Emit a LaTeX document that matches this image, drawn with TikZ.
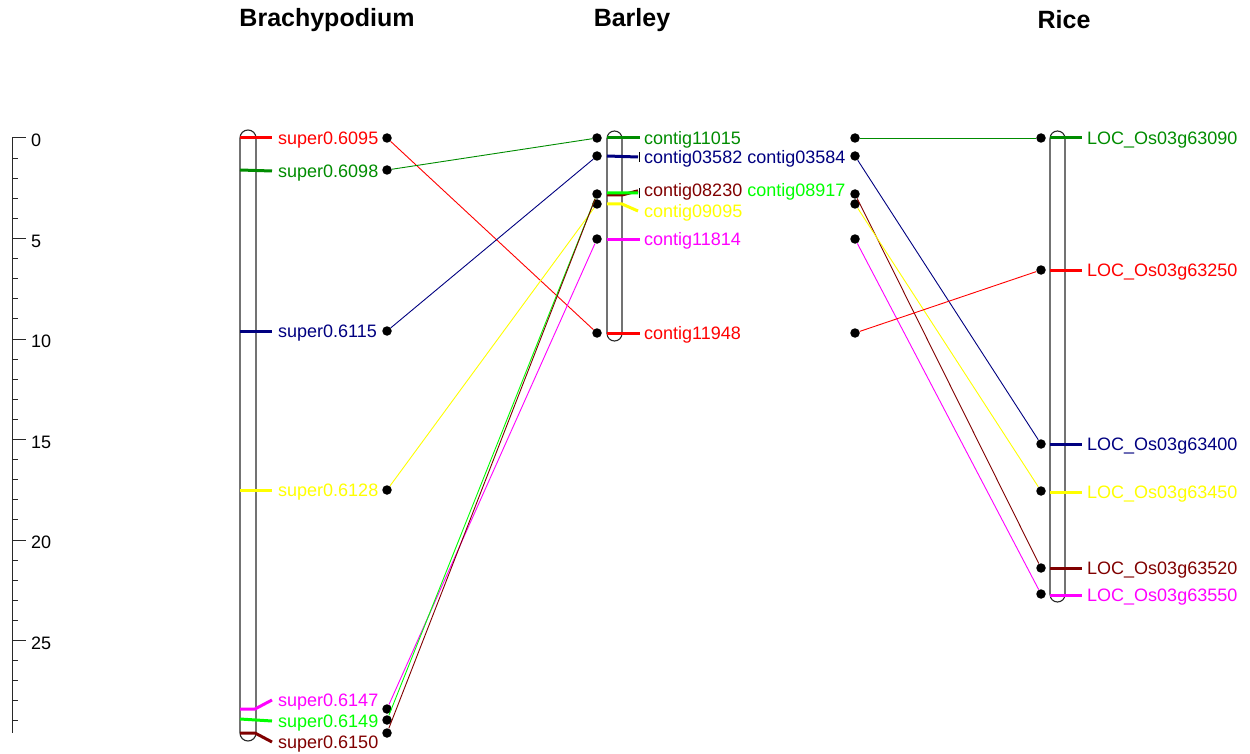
\documentclass[tikz,border=0pt]{standalone}
\usepackage{fontspec}
\setmainfont{Liberation Sans}
\definecolor{mred}{RGB}{255,0,0}
\definecolor{mdgreen}{RGB}{0,140,0}
\definecolor{mnavy}{RGB}{0,0,128}
\definecolor{myellow}{RGB}{255,255,0}
\definecolor{mmagenta}{RGB}{255,0,255}
\definecolor{mlime}{RGB}{0,255,0}
\definecolor{mdred}{RGB}{128,0,0}
\definecolor{chrom}{RGB}{40,40,40}
\begin{document}
\begin{tikzpicture}[x=1pt,y=-1pt,
  lbl/.style={anchor=west,inner sep=0pt,yshift=-1.8pt,font=\fontsize{18}{21}\selectfont},
  ttl/.style={inner sep=0pt,font=\bfseries\fontsize{25}{29}\selectfont},
  axl/.style={anchor=west,inner sep=0pt,font=\fontsize{18}{21}\selectfont},
  dot/.style={circle,fill=black,inner sep=0pt,minimum size=9.5pt},
  chr/.style={draw=chrom,line width=1.1pt},
  tick/.style={line width=3pt},
  conn/.style={line width=0.9pt}]
\useasboundingbox (0,0) rectangle (1250,754);

% titles
\node[ttl] (t1) at (327,20) {Brachypodium};
\node[ttl] (t2) at (632,20) {Barley};
\node[ttl] (t3) at (1064,20) {Rice};

% axis
\draw[chrom,line width=1pt] (12,138) -- (12,733);
\foreach \i in {0,...,29}{
  \pgfmathtruncatemacro{\m}{mod(\i,5)}
  \ifnum\m=0
    \draw[chrom,line width=1pt] (12,{138+20.1*\i}) -- (26,{138+20.1*\i});
    \node[axl] at (31,{140.5+20.1*\i}) {\i};
  \else
    \draw[chrom,line width=1pt] (12,{138+20.1*\i}) -- (18,{138+20.1*\i});
  \fi
}

% chromosomes
\draw[chr,rounded corners=8pt] (240,130) rectangle (256,741);
\draw[chr,rounded corners=7.5pt] (607,131) rectangle (622,341);
\draw[chr,rounded corners=7.5pt] (1050,131) rectangle (1065,602);

% Brachypodium labels
\node[lbl,mred] (bl1) at (278,138) {super0.6095};
\node[lbl,mdgreen] (bl2) at (278,171) {super0.6098};
\node[lbl,mnavy] (bl3) at (278,331) {super0.6115};
\node[lbl,myellow] (bl4) at (278,490) {super0.6128};
\node[lbl,mmagenta] (bl5) at (278,700) {super0.6147};
\node[lbl,mlime] (bl6) at (278,721) {super0.6149};
\node[lbl,mdred] (bl7) at (278,742) {super0.6150};

\draw[tick,mred] (240,138) -- ([xshift=-6pt,yshift=1.8pt]bl1.west);
\draw[tick,mdgreen] (240,170) -- ([xshift=-6pt,yshift=1.8pt]bl2.west);
\draw[tick,mnavy] (240,331) -- ([xshift=-6pt,yshift=1.8pt]bl3.west);
\draw[tick,myellow] (240,490) -- ([xshift=-6pt,yshift=1.8pt]bl4.west);
\draw[tick,mmagenta] (240,709) -- (255,709) -- ([xshift=-6pt,yshift=1.8pt]bl5.west);
\draw[tick,mlime] (240,719) -- ([xshift=-6pt,yshift=1.8pt]bl6.west);
\draw[tick,mdred] (240,733) -- (255,733) -- ([xshift=-6pt,yshift=1.8pt]bl7.west);

% Barley labels
\node[lbl,mdgreen] (al1) at (644,138) {contig11015};
\node[lbl,mnavy] (al2) at (644,157) {contig03582 contig03584};
\node[lbl] (al3) at (644,190) {\textcolor{mdred}{contig08230} \textcolor{mlime}{contig08917}};
\node[lbl,myellow] (al4) at (644,211) {contig09095};
\node[lbl,mmagenta] (al5) at (644,239) {contig11814};
\node[lbl,mred] (al6) at (644,333) {contig11948};

\draw[tick,mdgreen] (607,138) -- ([xshift=-4pt,yshift=1.8pt]al1.west);
\draw[tick,mnavy] (607,156) -- ([xshift=-6pt,yshift=1.8pt]al2.west);
\draw[line width=1pt,black] ([xshift=-5pt,yshift=-3pt]al2.west) -- ([xshift=-5pt,yshift=7pt]al2.west);
\draw[tick,mdred] (607,195) -- (622,195) -- ([xshift=-6pt,yshift=1pt]al3.west);
\draw[tick,mlime] (607,193) -- (622,193) -- ([xshift=-6pt,yshift=-1pt]al3.west);
\draw[line width=1pt,black] ([xshift=-5pt,yshift=-6pt]al3.west) -- ([xshift=-5pt,yshift=4pt]al3.west);
\draw[tick,myellow] (607,204) -- (622,204) -- ([xshift=-6pt,yshift=1.8pt]al4.west);
\draw[tick,mmagenta] (607,239) -- ([xshift=-4pt,yshift=1.8pt]al5.west);
\draw[tick,mred] (607,333) -- ([xshift=-4pt,yshift=1.8pt]al6.west);

% Rice labels
\node[lbl,mdgreen] (rl1) at (1087,138) {LOC\_Os03g63090};
\node[lbl,mred] (rl2) at (1087,270) {LOC\_Os03g63250};
\node[lbl,mnavy] (rl3) at (1087,444) {LOC\_Os03g63400};
\node[lbl,myellow] (rl4) at (1087,492) {LOC\_Os03g63450};
\node[lbl,mdred] (rl5) at (1087,568) {LOC\_Os03g63520};
\node[lbl,mmagenta] (rl6) at (1087,595) {LOC\_Os03g63550};

\draw[tick,mdgreen] (1050,138) -- ([xshift=-5pt,yshift=1.8pt]rl1.west);
\draw[tick,mred] (1050,270) -- ([xshift=-5pt,yshift=1.8pt]rl2.west);
\draw[tick,mnavy] (1050,444) -- ([xshift=-5pt,yshift=1.8pt]rl3.west);
\draw[tick,myellow] (1050,492) -- ([xshift=-5pt,yshift=1.8pt]rl4.west);
\draw[tick,mdred] (1050,568) -- ([xshift=-5pt,yshift=1.8pt]rl5.west);
\draw[tick,mmagenta] (1050,595) -- ([xshift=-5pt,yshift=1.8pt]rl6.west);

% dots
\node[dot] (b1) at (387,138) {};
\node[dot] (b2) at (387,170) {};
\node[dot] (b3) at (387,331) {};
\node[dot] (b4) at (387,490) {};
\node[dot] (b5) at (387,709) {};
\node[dot] (b6) at (387,720) {};
\node[dot] (b7) at (387,733) {};

\node[dot] (l1) at (597,138) {};
\node[dot] (l2) at (597,156) {};
\node[dot] (l3) at (597,194) {};
\node[dot] (l4) at (597,204) {};
\node[dot] (l5) at (597,239) {};
\node[dot] (l6) at (597,333) {};

\node[dot] (m1) at (855,138) {};
\node[dot] (m2) at (855,156) {};
\node[dot] (m3) at (855,194) {};
\node[dot] (m4) at (855,204) {};
\node[dot] (m5) at (855,239) {};
\node[dot] (m6) at (855,333) {};

\node[dot] (r1) at (1041,138) {};
\node[dot] (r2) at (1041,270) {};
\node[dot] (r3) at (1041,444) {};
\node[dot] (r4) at (1041,491) {};
\node[dot] (r5) at (1041,568) {};
\node[dot] (r6) at (1041,594) {};

% connectors Brachypodium - Barley
\draw[conn,mred] (b1) -- (l6);
\draw[conn,mdgreen] (b2) -- (l1);
\draw[conn,mnavy] (b3) -- (l2);
\draw[conn,myellow] (b4) -- (l4);
\draw[conn,mmagenta] (b5) -- (l5);
\draw[conn,mlime] (b6) -- (l3);
\draw[conn,mdred] (b7) -- (l3);

% connectors Barley - Rice
\draw[conn,mdgreen] (m1) -- (r1);
\draw[conn,mnavy] (m2) -- (r3);
\draw[conn,mdred] (m3) -- (r5);
\draw[conn,myellow] (m4) -- (r4);
\draw[conn,mmagenta] (m5) -- (r6);
\draw[conn,mred] (m6) -- (r2);
\end{tikzpicture}
\end{document}
